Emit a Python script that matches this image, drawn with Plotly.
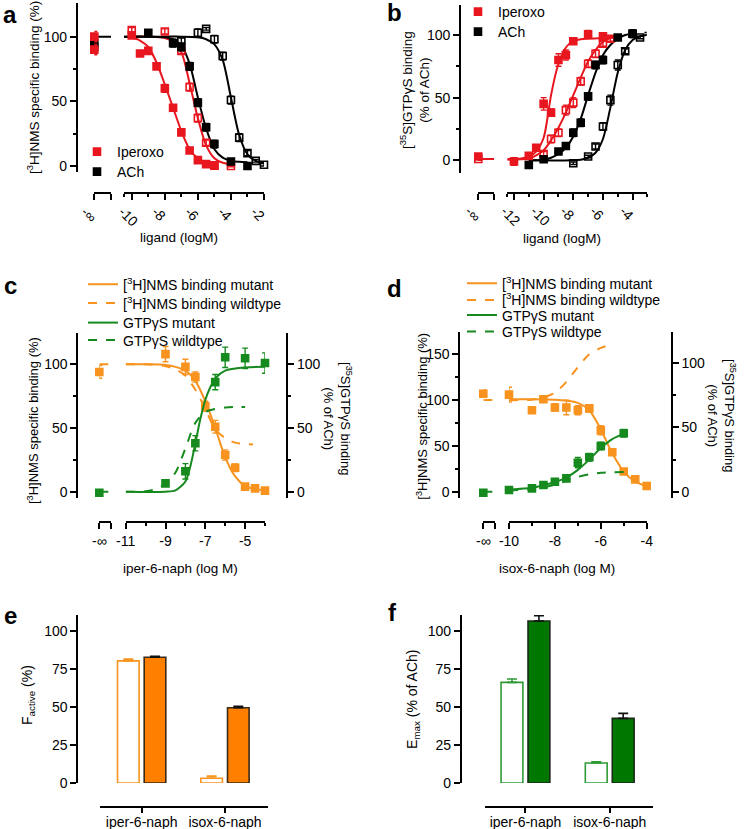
import plotly.graph_objects as go

W, H = 745, 829
def X(px): return px / W
def Y(py): return 1 - py / H

RED = "#E8161E"
BLACK = "#000000"
ORANGE = "#F7931E"
ORANGE_BAR = "#FF8000"
GREEN = "#168A1E"
GREEN_BAR = "#007800"
FONT = "Liberation Sans, Arial, sans-serif"

# ================= DATA =================
# ---- panel a : [3H]NMS binding, ligand (logM) ----
a_ipf_x = [-10, -9.5, -9, -8.5, -8, -7.5, -7, -6.5, -6, -5.5, -5]
a_ipf_y = [101, 87, 89, 77, 60, 45, 26, 12, 4.6, 1.5, 0.3]
a_ipf_e = [2, 0, 0, 2, 3, 2, 2, 1, 1, 0.5, 0.5]
a_ipo_x = [-10, -8, -7, -6.5, -6, -5.5, -5, -4]
a_ipo_y = [105, 104, 89, 61, 37, 18, 0.5, 0]
a_ipo_e = [2, 2, 2, 3, 3, 2, 1, 0.5]
a_acf_x = [-9, -7.5, -7, -6.5, -6, -5.5, -5, -4, -3]
a_acf_y = [103, 95, 92, 77, 49, 30, 17, 3.5, 0]
a_acf_e = [1, 3, 3, 3, 3, 3, 3, 1, 0.5]
a_aco_x = [-7, -6, -5.5, -5, -4.5, -4, -3.5, -3, -2.5, -2]
a_aco_y = [97, 103, 106, 98, 85, 51, 22, 10, 4, 1]
a_aco_e = [2, 3, 1, 3, 3, 3, 3, 2, 1, 1]
a_inf_y = [100, 90, 95, 92]          # Ipf, Ipo, AChf, ACho at -inf
a_inf_e = [4, 4, 4, 5]
a_inf_line = 100
a_fit_ipf_x = [-10, -9.5, -9, -8.5, -8, -7.5, -7, -6.5, -6, -5.5, -5]
a_fit_ipf_y = [99.5, 97, 92, 80, 63, 45, 27, 13, 6, 3, 2]
a_fit_ipo_x = [-10, -9, -8, -7.5, -7, -6.5, -6, -5.5, -5, -4.5, -4]
a_fit_ipo_y = [100, 100, 99, 96, 88, 64, 37, 16, 6, 2.5, 1.5]
a_fit_acf_x = [-10.47, -9, -8, -7.5, -7, -6.5, -6, -5.5, -5, -4.5, -4, -3.5, -3]
a_fit_acf_y = [100, 100, 99.5, 98, 93, 79, 53, 29, 13, 6.5, 4, 3.3, 3]
a_fit_aco_x = [-10.47, -8, -7, -6, -5.5, -5, -4.5, -4, -3.5, -3, -2.5, -2]
a_fit_aco_y = [100, 100, 100, 99.5, 98, 94, 82, 53, 24, 9, 4, 3]

# ---- panel b : [35S]GTPgS binding ----
b_ipf_x = [-12, -11, -10.5, -10, -9.5, -9, -8.5, -8, -7, -6]
b_ipf_y = [-1, 3.5, 10, 45, 38, 80, 84, 95, 100.5, 99]
b_ipf_e = [3, 2, 2, 5, 3, 5, 4, 2, 3, 2]
b_ipo_x = [-10, -9.5, -9, -8.5, -8, -7.5, -7, -6.5, -6, -5.5]
b_ipo_y = [5, 17, 22, 40, 46, 63, 77, 85, 93, 97]
b_ipo_e = [2, 3, 3, 4, 4, 3, 3, 3, 2, 2]
b_acf_x = [-11, -10, -9, -8.5, -8, -7.5, -7, -6.5, -6, -5, -4]
b_acf_y = [-3.7, 0.8, 7, 11.4, 22, 30, 51, 76, 80, 98, 101]
b_acf_e = [2, 1, 1, 2, 3, 3, 3, 3, 3, 2, 3]
b_aco_x = [-8, -7, -6.5, -6, -5.5, -5, -4.5, -4, -3.5, -3]
b_aco_y = [-2.4, 3, 11, 27, 48, 76, 87, 101, 98, 101]
b_aco_e = [1, 1, 2, 3, 4, 4, 2, 3, 1, 1]
b_inf_y = [3, 1]
b_inf_e = [2, 1]
b_inf_line = 1
b_fit_ipf_x = [-12.45, -11.5, -11, -10.5, -10, -9.75, -9.5, -9, -8.5, -8, -7.5, -7, -6, -5]
b_fit_ipf_y = [1, 1.5, 3, 7, 18, 33, 52, 77, 90, 95, 96.5, 97, 97.5, 98]
b_fit_ipo_x = [-12.45, -11, -10.5, -10, -9.5, -9, -8.5, -8, -7.5, -7, -6.5, -6, -5.5, -5]
b_fit_ipo_y = [0.5, 1.5, 4, 8, 16, 26, 38, 52, 66, 79, 88, 94.5, 97.5, 99]
b_fit_acf_x = [-11, -10, -9.5, -9, -8.5, -8, -7.5, -7, -6.5, -6, -5.5, -5, -4.5, -4]
b_fit_acf_y = [0, 0.5, 2, 5, 10, 19, 33, 52, 70, 84, 92, 97, 100, 101]
b_fit_aco_x = [-11, -8, -7.5, -7, -6.5, -6, -5.5, -5, -4.5, -4, -3.5, -3.05]
b_fit_aco_y = [0, 0, 0.5, 2, 6, 17, 42, 70, 88, 96, 99, 100]

# ---- panel c : iper-6-naph ----
c_nms_x = [-9, -8, -7.5, -7, -6.5, -6, -5.5, -5, -4.5, -4]
c_nms_y = [108, 98, 90, 67, 51, 28.8, 18.8, 4, 2.6, 0.8]
c_nms_e = [6, 6, 4, 4, 5, 4, 3, 2, 1, 1]
c_gtp_x = [-9, -8, -7.5, -6.5, -6, -5, -4]
c_gtp_y = [6.5, 16, 38, 86, 105.5, 104.7, 101]
c_gtp_e = [2, 6, 6, 6, 8, 8, 8]
c_inf_y = [94, -0.8]
c_inf_e = [5, 1]
c_inf_lines = [100, 0]
c_fit_nmsm_x = [-11, -10, -9, -8.5, -8, -7.5, -7, -6.5, -6, -5.5, -5, -4.5, -4]
c_fit_nmsm_y = [100, 100, 99.5, 98, 95, 87, 71, 50, 27, 12, 4.5, 2, 1]
c_fit_nmsw_x = [-11, -10, -9, -8.5, -8, -7.5, -7, -6.5, -6, -5.5, -5, -4.6]
c_fit_nmsw_y = [100, 100, 98.5, 96, 91, 80, 65, 49, 42, 38.5, 37.5, 37]
c_fit_gtpm_x = [-11, -9, -8.5, -8, -7.75, -7.5, -7.25, -7, -6.75, -6.5, -6, -5, -4]
c_fit_gtpm_y = [0, 0, 1, 8, 20, 38, 57, 72, 82, 89, 95, 97.5, 98]
c_fit_gtpw_x = [-11, -10, -9.5, -9, -8.5, -8, -7.5, -7, -6.5, -6, -5.5, -5]
c_fit_gtpw_y = [0, 0.3, 2, 6, 15, 34, 54, 62.5, 65, 66, 66.5, 66.5]

# ---- panel d : isox-6-naph ----
d_nms_x = [-10, -9, -8.5, -8, -7.5, -7, -6.5, -6, -5.5, -5, -4.5, -4]
d_nms_y = [106, 89, 101, 92, 92, 89, 91, 67, 43, 22, 13.5, 6.2]
d_nms_e = [8, 3, 2, 4, 8, 5, 4, 5, 2, 2, 2, 1]
d_gtp_x = [-10, -9, -8.5, -8, -7.5, -7, -6.5, -6, -5]
d_gtp_y = [1.3, 2.6, 5.2, 7.8, 10.4, 22.6, 26.8, 35.6, 45.5]
d_gtp_e = [1, 2, 1, 1, 2, 4, 3, 3, 3]
d_inf_y = [107, -0.8]
d_inf_e = [4, 1]
d_inf_lines = [100, 0]
d_fit_nmsm_x = [-10, -9, -8, -7.5, -7, -6.5, -6, -5.5, -5, -4.5, -4]
d_fit_nmsm_y = [101, 101, 100.5, 99.5, 97, 89, 68, 42, 22, 11, 6]
d_fit_nmsw_x = [-10, -9, -8.5, -8, -7.5, -7, -6.5, -6, -5.5]
d_fit_nmsw_y = [100, 100.5, 103, 108, 120, 136, 150, 157, 161]
d_fit_gtpm_x = [-10, -9, -8.5, -8, -7.5, -7, -6.5, -6, -5.5, -5]
d_fit_gtpm_y = [1.5, 3, 5, 7.5, 11, 17, 25, 34, 41, 45]
d_fit_gtpw_x = [-10, -9, -8.5, -8, -7.5, -7, -6.5, -6, -5.5, -5]
d_fit_gtpw_y = [1, 2, 3.5, 5.5, 8.5, 11.5, 13.5, 14.8, 15.2, 15.3]

# ---- panels e, f : bars ----
bar_cats = ["iper-6-naph", "isox-6-naph"]
e_wt = [80.3, 3.1]
e_wt_err = [1.2, 1.4]
e_mut = [82.7, 49.5]
e_mut_err = [0.6, 1.0]
f_wt = [66.2, 13.2]
f_wt_err = [2.2, 0.8]
f_mut = [106.6, 42.5]
f_mut_err = [3.5, 3.3]

LEG_A = ["Iperoxo", "ACh"]
LEG_C = ["[<sup>3</sup>H]NMS binding mutant", "[<sup>3</sup>H]NMS binding wildtype",
         "GTPγS mutant", "GTPγS wildtype"]

# ================= FIGURE =================
fig = go.Figure()

def pts(x, y, err, color, open_, xa, ya, name=None, legend=None):
    fig.add_trace(go.Scatter(
        x=x, y=y, mode="markers", xaxis=xa, yaxis=ya,
        marker=dict(symbol="square-open" if open_ else "square", size=7,
                    color=color, line=dict(width=1.6, color=color)),
        error_y=dict(type="data", array=err, color=color, thickness=1.4, width=3),
        cliponaxis=False, showlegend=legend is not None, name=name or " ",
        legend=legend or "legend"))

def curve(x, y, color, xa, ya, dash="solid", name=None, legend=None):
    fig.add_trace(go.Scatter(
        x=x, y=y, mode="lines", xaxis=xa, yaxis=ya,
        line=dict(color=color, width=2, dash=dash, shape="spline", smoothing=0.8),
        cliponaxis=False, showlegend=legend is not None, name=name or " ",
        legend=legend or "legend"))

# ---- panel a ----
curve(a_fit_ipf_x, a_fit_ipf_y, RED, "x", "y")
curve(a_fit_ipo_x, a_fit_ipo_y, RED, "x", "y")
curve(a_fit_acf_x, a_fit_acf_y, BLACK, "x", "y")
curve(a_fit_aco_x, a_fit_aco_y, BLACK, "x", "y")
curve([0, 1], [a_inf_line, a_inf_line], BLACK, "x2", "y")
pts(a_ipo_x, a_ipo_y, a_ipo_e, RED, True, "x", "y")
pts(a_aco_x, a_aco_y, a_aco_e, BLACK, True, "x", "y")
pts(a_ipf_x, a_ipf_y, a_ipf_e, RED, False, "x", "y", LEG_A[0], "legend")
pts(a_acf_x, a_acf_y, a_acf_e, BLACK, False, "x", "y", LEG_A[1], "legend2")
pts([0, 0], a_inf_y[2:], a_inf_e[2:], BLACK, False, "x2", "y")
pts([0, 0], a_inf_y[:2], a_inf_e[:2], RED, False, "x2", "y")

# ---- panel b ----
curve(b_fit_ipf_x, b_fit_ipf_y, RED, "x3", "y2")
curve(b_fit_ipo_x, b_fit_ipo_y, RED, "x3", "y2")
curve(b_fit_acf_x, b_fit_acf_y, BLACK, "x3", "y2")
curve(b_fit_aco_x, b_fit_aco_y, BLACK, "x3", "y2")
curve([0, 1], [b_inf_line, b_inf_line], RED, "x4", "y2")
pts(b_ipo_x, b_ipo_y, b_ipo_e, RED, True, "x3", "y2")
pts(b_aco_x, b_aco_y, b_aco_e, BLACK, True, "x3", "y2")
pts(b_ipf_x, b_ipf_y, b_ipf_e, RED, False, "x3", "y2", LEG_A[0], "legend3")
pts(b_acf_x, b_acf_y, b_acf_e, BLACK, False, "x3", "y2", LEG_A[1], "legend4")
pts([0], b_inf_y[:1], b_inf_e[:1], RED, False, "x4", "y2")
pts([0], b_inf_y[1:], b_inf_e[1:], RED, True, "x4", "y2")

# ---- panel c ----
curve(c_fit_nmsm_x, c_fit_nmsm_y, ORANGE, "x5", "y3", "solid", LEG_C[0], "legend5")
curve(c_fit_nmsw_x, c_fit_nmsw_y, ORANGE, "x5", "y3", "dash", LEG_C[1], "legend6")
curve(c_fit_gtpm_x, c_fit_gtpm_y, GREEN, "x5", "y4", "solid", LEG_C[2], "legend7")
curve(c_fit_gtpw_x, c_fit_gtpw_y, GREEN, "x5", "y4", "dash", LEG_C[3], "legend8")
curve([0, 1], [c_inf_lines[0]] * 2, ORANGE, "x6", "y3", "dash")
curve([0, 1], [c_inf_lines[1]] * 2, GREEN, "x6", "y4", "dash")
pts(c_nms_x, c_nms_y, c_nms_e, ORANGE, False, "x5", "y3")
pts(c_gtp_x, c_gtp_y, c_gtp_e, GREEN, False, "x5", "y4")
pts([0], c_inf_y[:1], c_inf_e[:1], ORANGE, False, "x6", "y3")
pts([0], c_inf_y[1:], c_inf_e[1:], GREEN, False, "x6", "y4")

# ---- panel d ----
curve(d_fit_nmsm_x, d_fit_nmsm_y, ORANGE, "x7", "y5", "solid", LEG_C[0], "legend9")
curve(d_fit_nmsw_x, d_fit_nmsw_y, ORANGE, "x7", "y5", "dash", LEG_C[1], "legend10")
curve(d_fit_gtpm_x, d_fit_gtpm_y, GREEN, "x7", "y6", "solid", LEG_C[2], "legend11")
curve(d_fit_gtpw_x, d_fit_gtpw_y, GREEN, "x7", "y6", "dash", LEG_C[3], "legend12")
curve([0, 1], [d_inf_lines[0]] * 2, ORANGE, "x8", "y5", "dash")
curve([0, 1], [d_inf_lines[1]] * 2, GREEN, "x8", "y6", "dash")
pts(d_nms_x, d_nms_y, d_nms_e, ORANGE, False, "x7", "y5")
pts(d_gtp_x, d_gtp_y, d_gtp_e, GREEN, False, "x7", "y6")
pts([0], d_inf_y[:1], d_inf_e[:1], ORANGE, False, "x8", "y5")
pts([0], d_inf_y[1:], d_inf_e[1:], GREEN, False, "x8", "y6")

# ---- panels e, f ----
def bar(y, err, fill, line, ecol, xa, ya):
    fig.add_trace(go.Bar(
        x=bar_cats, y=y, xaxis=xa, yaxis=ya,
        marker=dict(color=fill, line=dict(color=line, width=1.6)),
        error_y=dict(type="data", array=err, arrayminus=[0] * len(err), symmetric=False,
                     color=ecol, thickness=1.6, width=5),
        showlegend=False))

bar(e_wt, e_wt_err, "white", ORANGE, ORANGE, "x9", "y7")
bar(e_mut, e_mut_err, ORANGE_BAR, "#3a2a1a", "#111111", "x9", "y7")
bar(f_wt, f_wt_err, "white", "#2E9A35", "#2E9A35", "x10", "y8")
bar(f_mut, f_mut_err, GREEN_BAR, "#1a2a1a", "#111111", "x10", "y8")

# ================= LAYOUT =================
tickfont = dict(family=FONT, size=14, color="black")
base = dict(showline=True, linecolor="black", linewidth=1.8, ticks="outside",
            ticklen=6, tickwidth=1.6, tickcolor="black", showgrid=False,
            zeroline=False, tickfont=tickfont, anchor="free", fixedrange=True)

def minor(vals, ln=3):
    return dict(ticks="outside", tickvals=vals, ticklen=ln, tickwidth=1.5, tickcolor="black")

def xax(dom, rng, pos, tv, tt, mv=None, angle=0, shift=0, mlen=3, standoff=0):
    d = dict(base, domain=[X(dom[0]), X(dom[1])], range=rng, position=Y(pos),
             tickvals=tv, ticktext=tt, tickangle=angle, ticklabelshift=shift,
             ticklabelstandoff=standoff)
    if mv:
        d["minor"] = minor(mv, mlen)
    return d

def yax(dom, rng, pos, tv, mv=None, side="left", overlay=None):
    d = dict(base, domain=[Y(dom[0]), Y(dom[1])], range=rng, position=X(pos),
             tickvals=tv, side=side)
    if mv:
        d["minor"] = minor(mv)
    if overlay:
        d["overlaying"] = overlay
    return d

INF = ["-∞"]
layout = dict(
    width=W, height=H, margin=dict(l=0, r=0, t=0, b=0, autoexpand=False),
    paper_bgcolor="white", plot_bgcolor="white",
    font=dict(family=FONT, size=14, color="black"),
    barmode="group", bargap=0.36, bargroupgap=0.19,
    # panel a
    xaxis=xax((124, 264), [-10.47, -2], 193.3, [-10, -8, -6, -4, -2],
              ["-10", "-8", "-6", "-4", "-2"], [-10.47, -9, -7, -5, -3], 45, -9, 3, -2),
    xaxis2=xax((94.3, 111), [0, 1], 193.3, [0], INF, [1], 45, -9, 6, -2),
    yaxis=yax((172, 3), [-4.6, 126], 76.7, [0, 50, 100], [25, 75]),
    # panel b
    xaxis3=xax((507.3, 646.7), [-12.45, -3.05], 192.7, [-12, -10, -8, -6, -4],
               ["-12", "-10", "-8", "-6", "-4"], [-12.45, -11, -9, -7, -5, -3.05], 45, -9, 3, -2),
    xaxis4=xax((478.3, 494.3), [0, 1], 192.7, [0], INF, [1], 45, -9, 6, -2),
    yaxis2=yax((172.7, 5), [-9.9, 123.9], 460, [0, 50, 100], [25, 75]),
    # panel c
    xaxis5=xax((125.7, 265), [-11, -4], 522.3, [-11, -9, -7, -5],
               ["-11", "-9", "-7", "-5"], [-10, -8, -6, -4]),
    xaxis6=xax((99.3, 111), [0, 1], 522.3, [0], INF, [1], 0, 0, 6),
    yaxis3=yax((498.3, 332.7), [-5.2, 124.8], 77.3, [0, 50, 100], [25, 75]),
    yaxis4=yax((498.3, 332.7), [-5.2, 124.8], 287.3, [0, 50, 100], [25, 75], "right", "y3"),
    # panel d
    xaxis7=xax((509, 646.7), [-10, -4], 522.3, [-10, -8, -6, -4],
               ["-10", "-8", "-6", "-4"], [-9, -7, -5]),
    xaxis8=xax((483.3, 495), [0, 1], 522.3, [0], INF, [1], 0, 0, 6),
    yaxis5=yax((498.3, 331.7), [-7.2, 174.7], 459.3, [0, 50, 100, 150], [25, 75, 125]),
    yaxis6=yax((498.3, 331.7), [-5.14, 124.6], 671.7, [0, 50, 100], [25, 75], "right", "y5"),
    # panel e
    xaxis9=dict(base, type="category", domain=[X(100), X(268.3)], range=[-0.5, 1.52],
                position=Y(806.7), ticklen=5, ticklabelstandoff=-2),
    yaxis7=yax((783, 615), [0, 110.5], 77.3, [0, 25, 50, 75, 100]),
    # panel f
    xaxis10=dict(base, type="category", domain=[X(485), X(652.7)], range=[-0.48, 1.51],
                 position=Y(806.7), ticklen=5, ticklabelstandoff=-2),
    yaxis8=yax((783, 615), [0, 110.5], 460.7, [0, 25, 50, 75, 100]),
)

legfont = dict(family=FONT, size=14, color="black")
def leg(px, pyc):
    # px = centre of legend symbol, pyc = centre line of the single legend entry
    return dict(x=X(px - 20), y=Y(pyc - 14), xanchor="left", yanchor="top",
                bgcolor="rgba(0,0,0,0)", borderwidth=0, font=legfont, itemwidth=30,
                itemclick=False, itemdoubleclick=False)

leg_pos = {
    "legend": (97, 150), "legend2": (97, 170),
    "legend3": (478, 10), "legend4": (478, 30),
    "legend5": (103, 282.7), "legend6": (103, 301.5), "legend7": (103, 321), "legend8": (103, 338.5),
    "legend9": (482, 281.7), "legend10": (482, 298.3), "legend11": (482, 313.5), "legend12": (482, 330),
}
for k, (px, py) in leg_pos.items():
    layout[k] = leg(px, py)

fig.update_layout(**layout)

# ---- text annotations ----
def note(px, py, text, size=13.5, angle=0, bold=False):
    fig.add_annotation(x=X(px), y=Y(py), xref="paper", yref="paper", text=text,
                       showarrow=False, textangle=angle, xanchor="center", yanchor="middle",
                       font=dict(family=FONT, size=size, color="black",
                                 weight="bold" if bold else "normal"))

for lx, ly, lt in [(10, 14, "a"), (394, 13, "b"), (10, 285, "c"), (394, 288, "d"),
                   (10, 615, "e"), (392, 612, "f")]:
    note(lx, ly, lt, 24, 0, True)

note(179, 237, "ligand (logM)")
note(562, 238, "ligand (logM)")
note(180, 568, "iper-6-naph (log M)")
note(557, 568, "isox-6-naph (log M)")
note(33, 88, "[<sup>3</sup>H]NMS specific binding (%)", angle=-90)
note(415, 90, "[<sup>35</sup>S]GTPγS binding<br>(% of ACh)", angle=-90)
note(33, 421, "[<sup>3</sup>H]NMS specific binding (%)", 13, -90)
note(338, 418, "[<sup>35</sup>S]GTPγS binding<br>(% of ACh)", 13, 90)
note(421.7, 416, "[<sup>3</sup>H]NMS specific binding (%)", 13, -90)
note(722, 415, "[<sup>35</sup>S]GTPγS binding<br>(% of ACh)", 13, 90)
note(28, 695, "F<sub>active</sub> (%)", 14, -90)
note(413, 700, "E<sub>max</sub> (% of ACh)", 14, -90)

fig.write_html(
    "out.html",
    config={"displayModeBar": False, "staticPlot": False},
    post_script="document.body.style.margin='0px';"
                "document.documentElement.style.overflow='hidden';",
)
